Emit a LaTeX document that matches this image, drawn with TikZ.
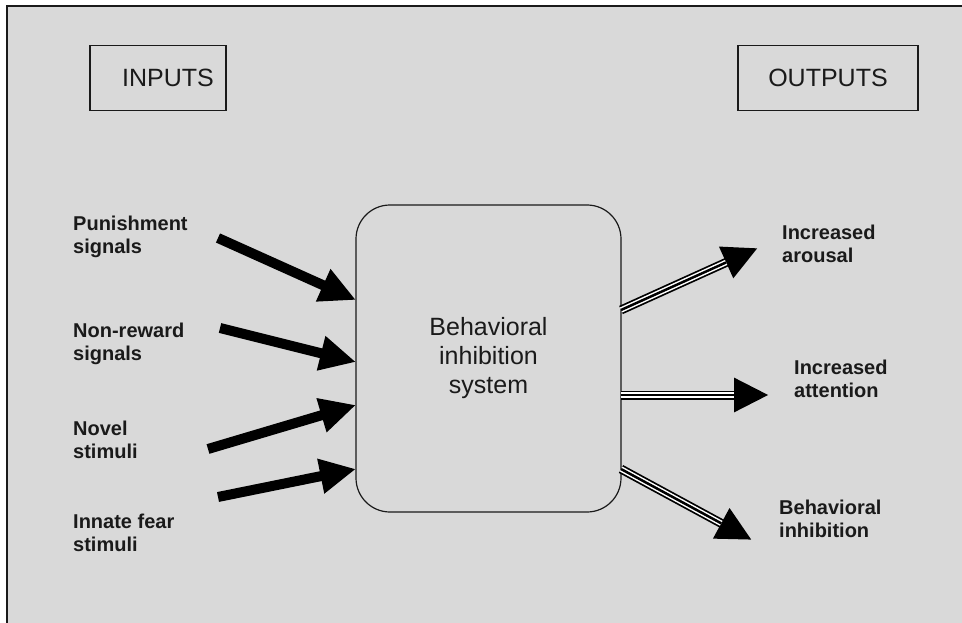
\documentclass[tikz,border=0pt]{standalone}
\usepackage{fontspec}
\setmainfont{Liberation Sans}
\usetikzlibrary{arrows.meta}
\definecolor{bg}{HTML}{D9D9D9}
\definecolor{ink}{HTML}{1A1A1A}
\tikzset{
  lbl/.style={font=\fontsize{20}{23.5}\selectfont\bfseries, align=left, anchor=west, inner sep=0pt, text=ink},
  hdr/.style={draw=ink, line width=1.2pt, minimum height=65pt, inner sep=0pt, font=\fontsize{25}{29}\selectfont, text=ink},
  inarrow/.style={draw=black, line width=10pt, -{Triangle[length=36pt,width=33pt]}},
  outhead/.style={draw=black, line width=9pt, -{Triangle[length=35pt,width=32pt]}},
  outwhite/.style={draw=white, line width=5.5pt, shorten >=35pt},
  outcore/.style={draw=black, line width=2.5pt, shorten >=35pt},
}
\newcommand\outarr[2]{%
  \draw[outhead] (#1) -- (#2);
  \draw[outwhite] (#1) -- (#2);
  \draw[outcore] (#1) -- (#2);
}
\begin{document}
\begin{tikzpicture}[x=1pt,y=-1pt]
\useasboundingbox (0,0) rectangle (962,623);
\fill[white] (0,0) rectangle (962,623);
\fill[bg] (7,6) rectangle (962,623);
\draw[line width=1.6pt, ink] (7,623) -- (7,6) -- (962,6);

% header boxes
\node[hdr, minimum width=136pt] (inputs) at (158,78) {\hspace*{20pt}INPUTS};
\node[hdr, minimum width=180pt] (outputs) at (828,78) {OUTPUTS};

% central box
\node[draw=ink, line width=1.2pt, rounded corners=34pt, minimum width=265pt, minimum height=307pt,
      align=center, font=\fontsize{25}{29}\selectfont, text=ink] (bis) at (488.5,358.5)
      {Behavioral\\inhibition\\system};

% input labels
\node[lbl] (l1) at (73,237) {Punishment\\signals};
\node[lbl] (l2) at (73,344) {Non-reward\\signals};
\node[lbl] (l3) at (73,440) {Novel\\stimuli};
\node[lbl] (l4) at (73,533) {Innate fear\\stimuli};

% output labels
\node[lbl] (o1) at (782,244) {Increased\\arousal};
\node[lbl] (o2) at (794,379) {Increased\\attention};
\node[lbl] (o3) at (779,519) {Behavioral\\inhibition};

% arrow coordinates
\coordinate (i1s) at (218,238);
\coordinate (i1e) at (356,300);
\coordinate (i2s) at (220,328);
\coordinate (i2e) at (356,362);
\coordinate (i3s) at (208,449);
\coordinate (i3e) at (356,405);
\coordinate (i4s) at (218,497);
\coordinate (i4e) at (356,469);

\coordinate (o1s) at (621,310);
\coordinate (o1e) at (758,248);
\coordinate (o2s) at (621,395);
\coordinate (o2e) at (769,395);
\coordinate (o3s) at (621,469);
\coordinate (o3e) at (752,540);

\draw[inarrow] (i1s) -- (i1e);
\draw[inarrow] (i2s) -- (i2e);
\draw[inarrow] (i3s) -- (i3e);
\draw[inarrow] (i4s) -- (i4e);

\outarr{o1s}{o1e}
\outarr{o2s}{o2e}
\outarr{o3s}{o3e}
\end{tikzpicture}
\end{document}
